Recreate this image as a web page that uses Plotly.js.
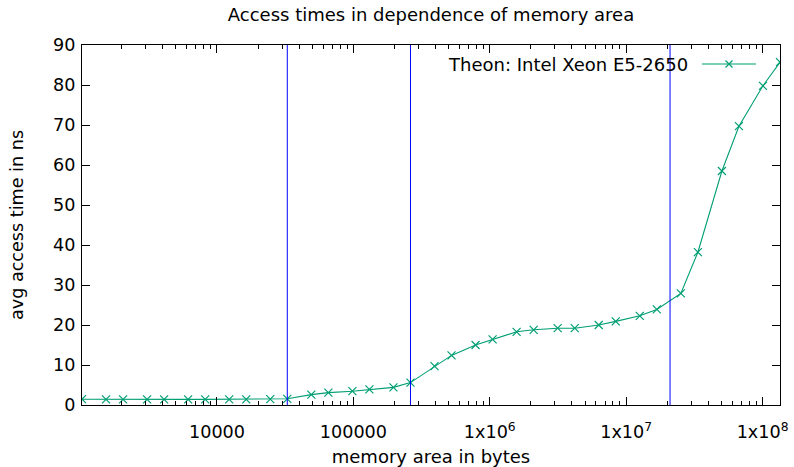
<!DOCTYPE html>
<html>
<head>
<meta charset="utf-8">
<script src="https://cdn.plot.ly/plotly-3.0.1.min.js"></script>
<style>html,body{margin:0;padding:0;background:#fff;}#chart{width:794px;height:467px;}</style>
</head>
<body>
<div id="chart"></div>
<script>
// memory area in bytes
const sizes = [1024, 1536, 2048, 3072, 4096, 6144, 8192, 12288, 16384, 24576, 32768,
  49152, 65536, 98304, 131072, 196608, 262144,
  393216, 524288, 786432, 1048576, 1572864, 2097152, 3145728, 4194304, 6291456,
  8388608, 12582912, 16777216, 25165824, 33554432, 50331648, 67108864, 100663296, 134217728];
// avg access time in ns
const times = [1.45, 1.4, 1.4, 1.4, 1.4, 1.4, 1.4, 1.4, 1.4, 1.45, 1.55,
  2.6, 3.1, 3.45, 3.9, 4.4, 5.6,
  9.7, 12.4, 15.0, 16.4, 18.3, 18.8, 19.2, 19.2, 20.0,
  20.9, 22.3, 23.9, 27.9, 38.2, 58.5, 69.7, 79.8, 85.7];
// cache sizes (L1, L2, L3)
const cacheSizes = [32768, 262144, 20971520];
const seriesName = 'Theon: Intel Xeon E5-2650';
const xTickVals = [1e4, 1e5, 1e6, 1e7, 1e8];
const xTickText = ['10000', '100000', '1x10<sup>6</sup>', '1x10<sup>7</sup>', '1x10<sup>8</sup>'];

const green = '#009e73';
const minorVals = [];
for (let d = 1e3; d <= 1e8; d *= 10) {
  for (let m = 2; m <= 9; m++) minorVals.push(d * m);
}

const trace = {
  x: sizes, y: times, type: 'scatter', mode: 'lines+markers', name: seriesName,
  line: {color: green, width: 1.1},
  marker: {symbol: 'x-thin-open', size: 8, color: green, line: {color: green, width: 1.2}},
  showlegend: false
};

const shapes = cacheSizes.map(c => ({
  type: 'line', xref: 'x', yref: 'paper', x0: c, x1: c, y0: 0, y1: 1,
  line: {color: '#0000ff', width: 1}
}));
// legend sample (text on the left, sample on the right, gnuplot style)
const W = 698, H = 360;
const lx0 = (702 - 82) / W, lx1 = (756 - 82) / W, ly = (405 - 64) / H;
const mx = (729 - 82) / W, dx = 3.5 / W, dy = 3.5 / H;
shapes.push({type: 'line', xref: 'paper', yref: 'paper', x0: lx0, x1: lx1, y0: ly, y1: ly,
  line: {color: green, width: 1.1}});
shapes.push({type: 'path', xref: 'paper', yref: 'paper',
  path: `M ${mx-dx} ${ly-dy} L ${mx+dx} ${ly+dy} M ${mx-dx} ${ly+dy} L ${mx+dx} ${ly-dy}`,
  line: {color: green, width: 1.2}});

const font = {family: 'DejaVu Sans', size: 18, color: '#000'};
const tfont = {family: 'DejaVu Sans', size: 17.6, color: '#000'};

const layout = {
  width: 794, height: 467,
  margin: {l: 82, r: 14, t: 45, b: 62},
  paper_bgcolor: '#fff', plot_bgcolor: '#fff',
  font: font,
  title: {text: 'Access times in dependence of memory area', font: font,
    x: 0.5, xref: 'paper', y: 1 - 15 / 467, yref: 'container', yanchor: 'middle'},
  xaxis: {
    type: 'log', range: [Math.log10(1024), Math.log10(134217728)],
    tickmode: 'array', tickvals: xTickVals, ticktext: xTickText,
    ticks: 'inside', ticklen: 8, tickwidth: 1, tickcolor: '#000',
    minor: {tickmode: 'array', tickvals: minorVals, ticks: 'inside', ticklen: 4, tickwidth: 1, tickcolor: '#000'},
    showline: true, linecolor: '#000', linewidth: 1, mirror: 'ticks',
    showgrid: false, zeroline: false, automargin: false,
    tickfont: tfont, ticklabelstandoff: 11,
    title: {text: 'memory area in bytes', font: font, standoff: 12}
  },
  yaxis: {
    range: [0, 90], dtick: 10, tick0: 0,
    ticks: 'inside', ticklen: 8, tickwidth: 1, tickcolor: '#000',
    showline: true, linecolor: '#000', linewidth: 1, mirror: 'ticks',
    showgrid: false, zeroline: false, automargin: false,
    tickfont: tfont, ticklabelstandoff: 2,
    title: {text: 'avg access time in ns', font: tfont, standoff: 24}
  },
  shapes: shapes,
  annotations: [{
    text: seriesName, xref: 'paper', yref: 'paper', x: (690 - 82) / W, y: ly,
    xanchor: 'right', yanchor: 'middle', showarrow: false, font: font
  }]
};

Plotly.newPlot('chart', [trace], layout, {displayModeBar: false, staticPlot: true});
</script>
</body>
</html>
